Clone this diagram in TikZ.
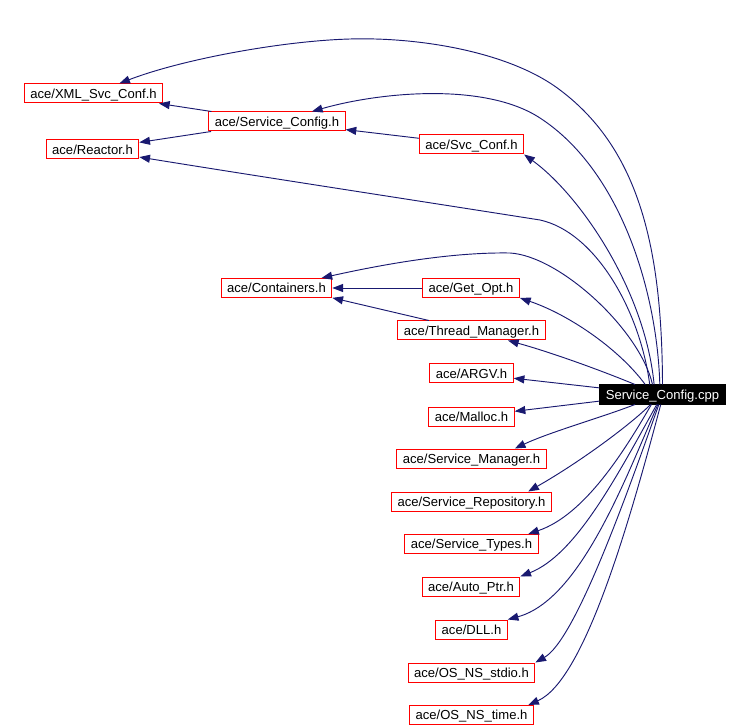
\documentclass[tikz,border=0pt]{standalone}
\usepackage{fontspec}
\setmainfont{Liberation Sans}
\usetikzlibrary{arrows.meta}
\definecolor{edgeblue}{HTML}{191970}
\tikzset{
  hdr/.style={draw=red,line width=0.75pt,inner xsep=4.5pt,inner ysep=0pt,minimum height=14.25pt,text height=7pt,text depth=0pt,font=\fontsize{9.8}{11}\selectfont},
  src/.style={hdr,draw=black,fill=black,text=white},
  dep/.style={draw=edgeblue,line width=0.7pt,-{Triangle[length=8pt,width=6pt]}}
}
\begin{document}
\begin{tikzpicture}[x=0.75pt,y=-0.75pt]
\useasboundingbox (0,0) rectangle (750,727);
\node[hdr] (xml) at (93.5,93.5) {ace/XML\_Svc\_Conf.h};
\node[hdr] (svccfg) at (277,121.5) {ace/Service\_Config.h};
\node[hdr] (reactor) at (92.5,149.5) {ace/Reactor.h};
\node[hdr] (svcconf) at (471.5,144.5) {ace/Svc\_Conf.h};
\node[hdr] (containers) at (276.5,288) {ace/Containers.h};
\node[hdr] (getopt) at (471,288) {ace/Get\_Opt.h};
\node[hdr] (thread) at (471.5,330.5) {ace/Thread\_Manager.h};
\node[hdr] (argv) at (471.5,373.5) {ace/ARGV.h};
\node[src] (cpp) at (662.5,394.5) {Service\_Config.cpp};
\node[hdr] (malloc) at (471.5,416.5) {ace/Malloc.h};
\node[hdr] (mgr) at (471.5,458.5) {ace/Service\_Manager.h};
\node[hdr] (repo) at (471.5,501.5) {ace/Service\_Repository.h};
\node[hdr] (types) at (471.5,544) {ace/Service\_Types.h};
\node[hdr] (autoptr) at (471,586.5) {ace/Auto\_Ptr.h};
\node[hdr] (dll) at (471.5,629.5) {ace/DLL.h};
\node[hdr] (stdio) at (471.5,672.5) {ace/OS\_NS\_stdio.h};
\node[hdr] (time) at (471.5,715) {ace/OS\_NS\_time.h};

\draw[dep] (cpp.90) .. controls (662,250) and (640,150) .. (560,90) .. controls (510,52) and (420,37) .. (350,39) .. controls (280,41) and (180,60) .. (xml);
\draw[dep] (cpp.105) .. controls (657,290) and (620,170) .. (540,118) .. controls (485,82) and (380,92) .. (svccfg);
\draw[dep] (cpp.130) .. controls (645,290) and (580,195) .. (svcconf.south east);
\draw[dep] (cpp.142) .. controls (640,310) and (595,232) .. (540,220) .. controls (400,198) and (250,175) .. (reactor);
\draw[dep] (cpp.135) .. controls (640,330) and (560,256) .. (510,253) .. controls (450,252) and (380,265) .. (containers);
\draw[dep] (cpp.150) .. controls (620,350) and (570,315) .. (getopt.south east);
\draw[dep] (cpp.160) .. controls (600,370) and (550,352) .. (thread);
\draw[dep] (cpp.174) -- (argv);
\draw[dep] (cpp.186) -- (malloc);
\draw[dep] (cpp.200) .. controls (600,418) and (550,432) .. (mgr.13);
\draw[dep] (cpp.220) .. controls (630,425) and (580,462) .. (repo.10);
\draw[dep] (cpp.222) .. controls (625,450) and (585,515) .. (types.10);
\draw[dep] (cpp.240) .. controls (615,480) and (575,555) .. (autoptr.north east);
\draw[dep] (cpp.245) .. controls (625,480) and (580,600) .. (dll.north east);
\draw[dep] (cpp.250) .. controls (625,500) and (575,640) .. (stdio.north east);
\draw[dep] (cpp.260) .. controls (630,520) and (585,680) .. (time.10);
\draw[dep] (svccfg) -- (xml);
\draw[dep] (svccfg) -- (reactor);
\draw[dep] (svcconf) -- (svccfg);
\draw[dep] (getopt) -- (containers);
\draw[dep] (thread) -- (containers.-10);
\end{tikzpicture}
\end{document}
